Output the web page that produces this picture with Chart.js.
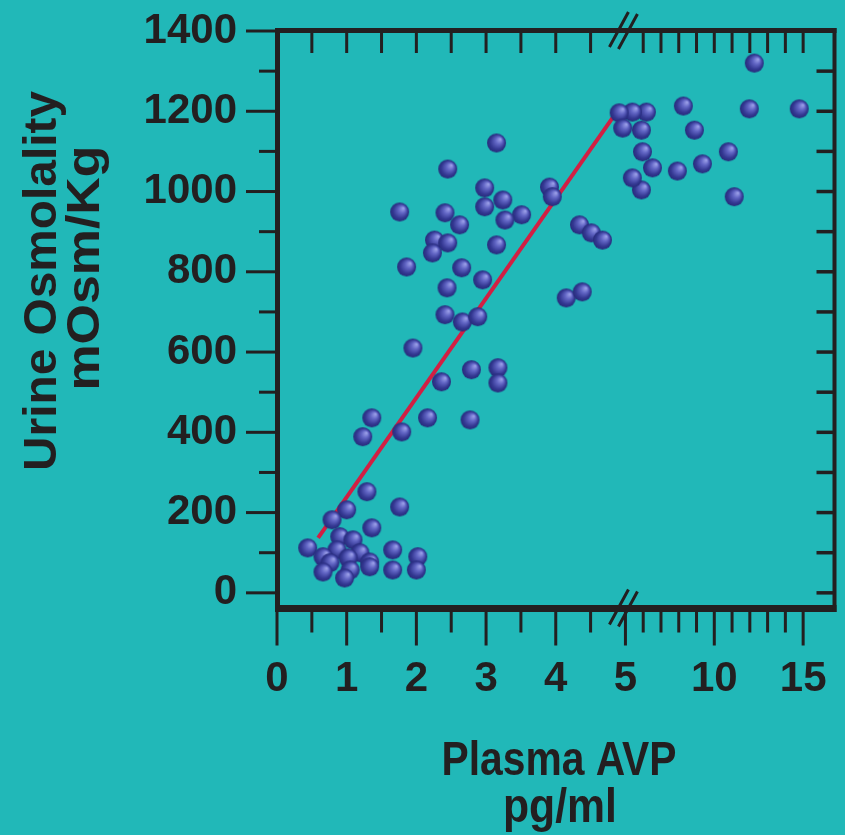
<!DOCTYPE html>
<html>
<head>
<meta charset="utf-8">
<script src="https://cdn.jsdelivr.net/npm/chart.js@4.4.1/dist/chart.umd.min.js"></script>
<style>
  html, body { margin: 0; padding: 0; background: #21b8b8; }
  #wrap { width: 845px; height: 835px; }
</style>
</head>
<body>
<div id="wrap"><canvas id="chart" width="845" height="835"></canvas></div>
<script>
// Plasma AVP (pg/ml) and urine osmolality (mOsm/Kg)
const avp = [
  12.25, 8.26, 11.97, 14.78, 6.18, 5.9, 10.79, 9.33, 7.92, 6.52, 5.96, 11.12, 5.9, 5.39, 4.91, 4.96, 5.39, 8.88,
  3.91, 3.95, 3.51, 4.34, 4.51, 4.67, 4.15, 4.38,
  3.15, 2.45, 2.98, 3.24, 1.76, 2.41, 2.98, 2.62, 3.27, 2.26, 2.45, 2.23, 3.15, 1.86, 2.65, 2.95, 2.44, 2.41, 2.66, 2.88,
  1.95, 2.79, 3.17, 3.17, 2.36, 1.36, 1.23, 2.16, 1.79, 2.77,
  1.29, 1.0, 1.76, 0.79, 1.36, 0.9, 1.09, 0.44, 0.86, 1.19, 0.66, 1.02, 0.76, 1.33, 1.05, 1.33, 0.66, 0.97, 1.66, 1.66, 2.02, 2.0
];
const urineOsm = [
  1320, 1213, 1206, 1206, 1198, 1153, 1099, 1069, 1051, 1059, 1099, 987, 1004, 1198, 1196, 1158, 1034, 1153,
  1011, 987, 942, 917, 897, 879, 735, 750,
  1121, 1056, 1009, 979, 949, 947, 962, 917, 929, 879, 872, 847, 867, 812, 810, 780, 760, 693, 675, 688,
  610, 556, 561, 523, 526, 436, 389, 436, 401, 431,
  252, 207, 214, 182, 162, 140, 132, 112, 107, 100, 90, 87, 75, 77, 57, 65, 52, 37, 107, 57, 90, 57
];
// regression line end points
const fitAvp = [0.59, 4.82];
const fitOsm = [137, 1185];

const xTickValues = [0, 1, 2, 3, 4, 5, 10, 15];
const xMinorValues = [0.5, 1.5, 2.5, 3.5, 4.5, 6, 7, 8, 9, 11, 12, 13, 14];
const yTickValues = [0, 200, 400, 600, 800, 1000, 1200, 1400];
const yMinorValues = [100, 300, 500, 700, 900, 1100, 1300];

const BG = '#21b8b8';
const INK = '#231f20';

// the axis is broken at 5: beyond it one pg/ml takes about a quarter of the width
const BREAK = 5;
const SQUEEZE = 0.255;
const toAxis = v => (v <= BREAK ? v : BREAK + (v - BREAK) * SQUEEZE);

function makeBall(r) {
  const c = document.createElement('canvas');
  const s = Math.ceil(r * 2) + 2;
  c.width = c.height = s;
  const g = c.getContext('2d');
  const m = s / 2;
  const grad = g.createRadialGradient(m + r * 0.4, m - r * 0.4, 0.5, m, m, r);
  grad.addColorStop(0, '#9a9ee8');
  grad.addColorStop(0.35, '#6165c4');
  grad.addColorStop(0.75, '#343892');
  grad.addColorStop(1, '#272b7a');
  g.fillStyle = grad;
  g.beginPath();
  g.arc(m, m, r, 0, Math.PI * 2);
  g.fill();
  return c;
}

function fitText(ctx, text, cx, base, width, size, angle) {
  ctx.save();
  ctx.translate(cx, base);
  if (angle) ctx.rotate(angle);
  ctx.font = `bold ${size}px "Liberation Sans", Arial, sans-serif`;
  const w = ctx.measureText(text).width;
  ctx.scale(width / w, 1);
  ctx.textAlign = 'center';
  ctx.textBaseline = 'alphabetic';
  ctx.fillStyle = INK;
  ctx.fillText(text, 0, 0);
  ctx.restore();
}

const decor = {
  id: 'decor',
  beforeDraw(chart) {
    const ctx = chart.ctx;
    ctx.save();
    ctx.fillStyle = BG;
    ctx.fillRect(0, 0, chart.width, chart.height);
    ctx.restore();
  },
  beforeDatasetsDraw(chart) {
    const { ctx, chartArea: a, scales: { x, y } } = chart;
    ctx.save();
    ctx.fillStyle = INK;
    // frame
    ctx.fillRect(a.left - 2, a.top - 3, a.right - a.left + 4, 5);
    ctx.fillRect(a.left - 2, a.bottom - 3.5, a.right - a.left + 4, 7);
    ctx.fillRect(a.left - 2, a.top - 3, 5, a.bottom - a.top + 6.5);
    ctx.fillRect(a.right - 2, a.top - 3, 4, a.bottom - a.top + 6.5);

    // y ticks: outside on the left, inside on the right
    yTickValues.forEach(v => {
      const py = y.getPixelForValue(v);
      ctx.fillRect(a.left - 31, py - 1.5, 31, 3);
    });
    yMinorValues.forEach(v => {
      const py = y.getPixelForValue(v);
      ctx.fillRect(a.left - 18, py - 1.5, 18, 3);
    });
    [...yTickValues, ...yMinorValues].filter(v => v < 1400).forEach(v => {
      const py = y.getPixelForValue(v);
      ctx.fillRect(a.right - 18, py - 1.75, 18, 3.5);
    });

    // x ticks: outside at the bottom, inside at the top
    xTickValues.forEach(v => {
      const px = x.getPixelForValue(toAxis(v));
      ctx.fillRect(px - 1.5, a.bottom + 3, 3, 34);
    });
    xMinorValues.forEach(v => {
      const px = x.getPixelForValue(toAxis(v));
      ctx.fillRect(px - 1.5, a.bottom + 3, 3, 21);
    });
    [...xTickValues, ...xMinorValues].filter(v => v > 0 && v !== BREAK).forEach(v => {
      const px = x.getPixelForValue(toAxis(v));
      ctx.fillRect(px - 1.5, a.top + 2, 3, 20);
    });

    // break marks //
    const bx = x.getPixelForValue(toAxis(BREAK));
    ctx.strokeStyle = INK;
    ctx.lineWidth = 3;
    [a.top, a.bottom].forEach(by => {
      ctx.beginPath();
      ctx.moveTo(bx - 16, by + 16);
      ctx.lineTo(bx + 3, by - 19);
      ctx.moveTo(bx - 7, by + 18);
      ctx.lineTo(bx + 12, by - 17);
      ctx.stroke();
    });
    ctx.restore();
  },
  afterDraw(chart) {
    const ctx = chart.ctx;
    fitText(ctx, 'Urine Osmolality', 56, 281, 380, 47, -Math.PI / 2);
    fitText(ctx, 'mOsm/Kg', 99, 268, 245, 47, -Math.PI / 2);
    fitText(ctx, 'Plasma AVP', 559, 775, 235, 48);
    fitText(ctx, 'pg/ml', 560, 822, 114, 48);
  }
};

const tickFont = { family: '"Liberation Sans", Arial, sans-serif', size: 42, weight: 'bold' };
// invisible grid: only used to push the tick labels away from the frame
const hiddenGrid = len => ({ display: true, drawOnChartArea: false, drawTicks: true, tickLength: len, color: 'rgba(0,0,0,0)' });

new Chart(document.getElementById('chart'), {
  data: {
    datasets: [
      {
        type: 'scatter',
        data: avp.map((v, i) => ({ x: toAxis(v), y: urineOsm[i] })),
        pointStyle: makeBall(9.5),
        pointRadius: 9.5,
        order: 1
      },
      {
        type: 'line',
        data: fitAvp.map((v, i) => ({ x: toAxis(v), y: fitOsm[i] })),
        borderColor: '#d21f43',
        borderWidth: 4,
        pointRadius: 0,
        fill: false,
        order: 2
      }
    ]
  },
  options: {
    responsive: false,
    animation: false,
    devicePixelRatio: 1,
    layout: { padding: { left: 0, right: 10, top: 31, bottom: 0 } },
    plugins: { legend: { display: false }, tooltip: { enabled: false } },
    scales: {
      x: {
        type: 'linear',
        min: 0,
        max: 8,
        grid: hiddenGrid(46),
        border: { display: false },
        afterFit: s => { s.height = 226.5; },
        afterBuildTicks: s => { s.ticks = xTickValues.map(v => ({ value: toAxis(v) })); },
        ticks: {
          autoSkip: false,
          maxRotation: 0,
          padding: 0,
          color: INK,
          font: tickFont,
          callback: (val, i) => String(xTickValues[i])
        }
      },
      y: {
        type: 'linear',
        min: -39,
        max: 1400,
        grid: hiddenGrid(40),
        border: { display: false },
        afterFit: s => { s.width = 277; },
        afterBuildTicks: s => { s.ticks = yTickValues.map(v => ({ value: v })); },
        ticks: {
          autoSkip: false,
          padding: 0,
          color: INK,
          font: tickFont,
          callback: v => String(v)
        }
      }
    }
  },
  plugins: [decor]
});
</script>
</body>
</html>
